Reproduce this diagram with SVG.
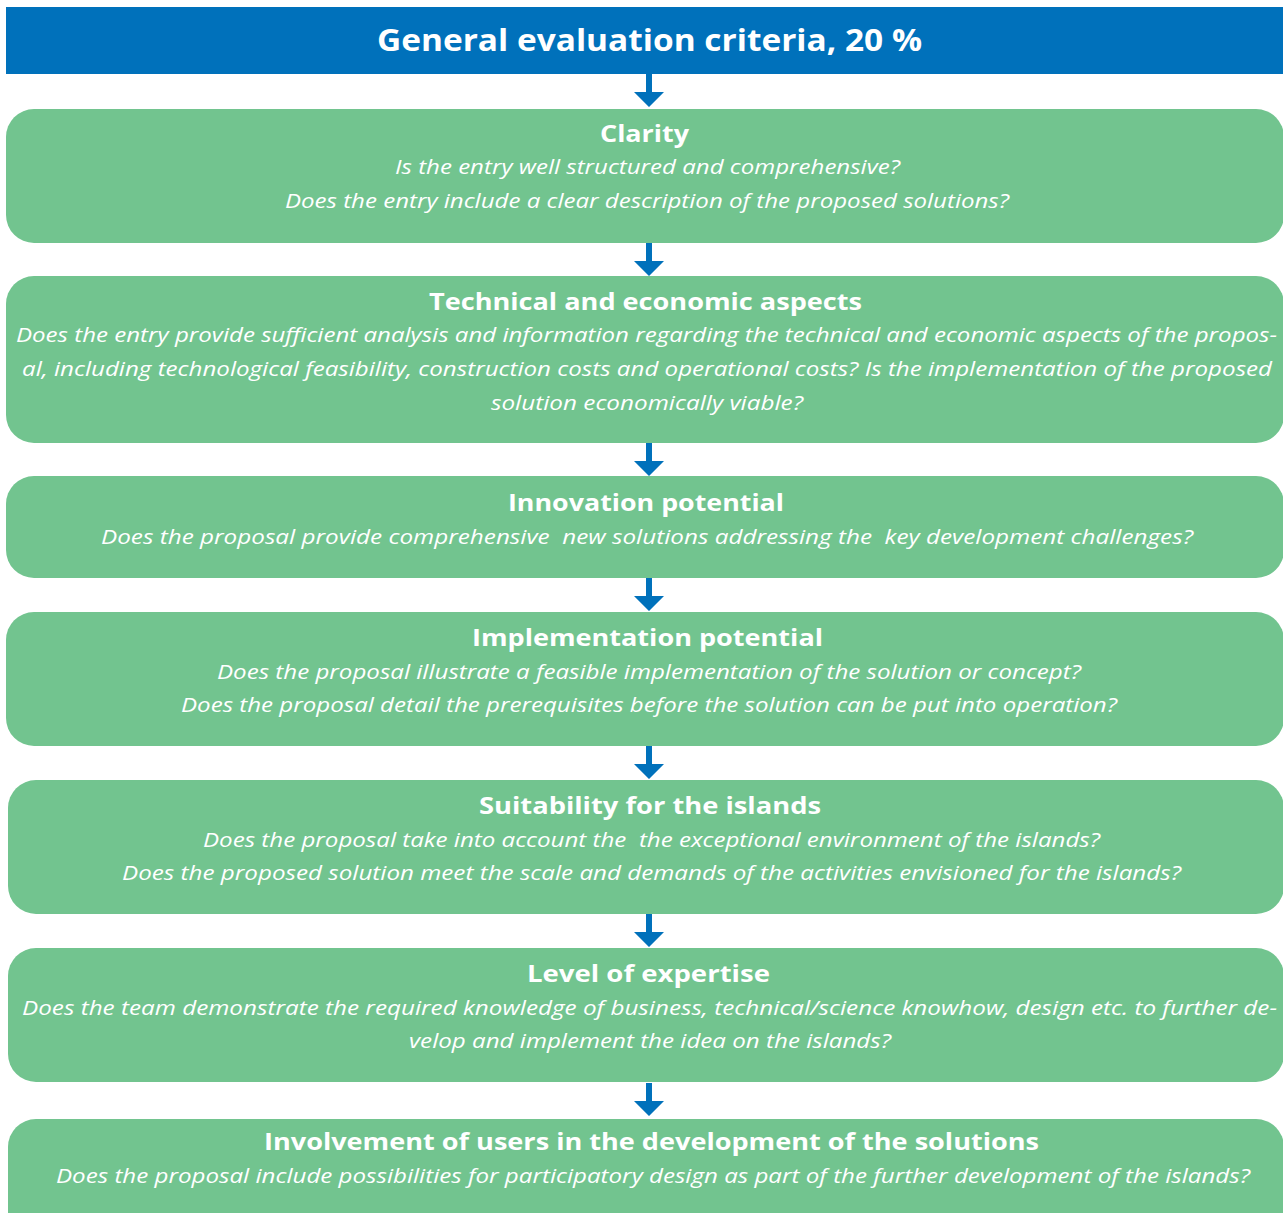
<svg xmlns="http://www.w3.org/2000/svg" width="1283" height="1213" viewBox="0 0 1283 1213">
<defs>
<style>
.box{fill:#72C48F;}
.h{font-family:"Open Sans","Noto Sans",sans-serif;font-weight:700;font-size:24px;fill:#fff;}
.b{font-family:"Open Sans","Noto Sans",sans-serif;font-style:italic;font-size:20px;fill:#fff;}
.t{font-family:"Open Sans","Noto Sans",sans-serif;font-weight:700;font-size:31px;fill:#fff;}
.arr{fill:#0071BB;}
</style>
<g id="arrowShape"><path d="M-3,0 H3 V18 H15 L0,33 L-15,18 H-3 Z"/></g>
</defs>
<rect width="1283" height="1213" fill="#fff"/>
<g id="header">
<rect x="6" y="7" width="1277" height="67" fill="#0071BB"/>
<text class="t" x="377" y="51" textLength="545" lengthAdjust="spacingAndGlyphs">General evaluation criteria, 20 %</text>
</g>
<g id="connectors" class="arr">
<use href="#arrowShape" x="649" y="74"/>
<use href="#arrowShape" x="649" y="243"/>
<use href="#arrowShape" x="649" y="443"/>
<use href="#arrowShape" x="649" y="578"/>
<use href="#arrowShape" x="649" y="746"/>
<use href="#arrowShape" x="649" y="914"/>
<use href="#arrowShape" x="649" y="1083"/>
</g>
<g id="clarity">
<rect class="box" x="6" y="109" width="1278" height="134" rx="28"/>
<text class="h" x="600" y="142" textLength="89" lengthAdjust="spacingAndGlyphs">Clarity</text>
<text class="b" x="395" y="174" textLength="505" lengthAdjust="spacingAndGlyphs">Is the entry well structured and comprehensive?</text>
<text class="b" x="285" y="208" textLength="724" lengthAdjust="spacingAndGlyphs">Does the entry include a clear description of the proposed solutions?</text>
</g>
<g id="technical">
<rect class="box" x="6" y="276" width="1278" height="167" rx="28"/>
<text class="h" x="429" y="310" textLength="433" lengthAdjust="spacingAndGlyphs">Technical and economic aspects</text>
<text class="b" x="16" y="342" textLength="1261" lengthAdjust="spacingAndGlyphs">Does the entry provide sufficient analysis and information regarding the technical and economic aspects of the propos-</text>
<text class="b" x="22" y="376" textLength="1250" lengthAdjust="spacingAndGlyphs">al, including technological feasibility, construction costs and operational costs? Is the implementation of the proposed</text>
<text class="b" x="491" y="410" textLength="312" lengthAdjust="spacingAndGlyphs">solution economically viable?</text>
</g>
<g id="innovation">
<rect class="box" x="6" y="476" width="1278" height="102" rx="28"/>
<text class="h" x="508" y="511" textLength="276" lengthAdjust="spacingAndGlyphs">Innovation potential</text>
<text class="b" x="101" y="544" textLength="1092" lengthAdjust="spacingAndGlyphs" xml:space="preserve">Does the proposal provide comprehensive  new solutions addressing the  key development challenges?</text>
</g>
<g id="implementation">
<rect class="box" x="6" y="612" width="1278" height="134" rx="28"/>
<text class="h" x="472" y="646" textLength="351" lengthAdjust="spacingAndGlyphs">Implementation potential</text>
<text class="b" x="217" y="679" textLength="864" lengthAdjust="spacingAndGlyphs">Does the proposal illustrate a feasible implementation of the solution or concept?</text>
<text class="b" x="181" y="712" textLength="936" lengthAdjust="spacingAndGlyphs">Does the proposal detail the prerequisites before the solution can be put into operation?</text>
</g>
<g id="suitability">
<rect class="box" x="8" y="780" width="1276" height="134" rx="28"/>
<text class="h" x="479" y="814" textLength="342" lengthAdjust="spacingAndGlyphs">Suitability for the islands</text>
<text class="b" x="203" y="847" textLength="897" lengthAdjust="spacingAndGlyphs" xml:space="preserve">Does the proposal take into account the  the exceptional environment of the islands?</text>
<text class="b" x="122" y="880" textLength="1059" lengthAdjust="spacingAndGlyphs">Does the proposed solution meet the scale and demands of the activities envisioned for the islands?</text>
</g>
<g id="expertise">
<rect class="box" x="8" y="948" width="1276" height="134" rx="28"/>
<text class="h" x="527" y="982" textLength="243" lengthAdjust="spacingAndGlyphs">Level of expertise</text>
<text class="b" x="22" y="1015" textLength="1255" lengthAdjust="spacingAndGlyphs">Does the team demonstrate the required knowledge of business, technical/science knowhow, design etc. to further de-</text>
<text class="b" x="409" y="1048" textLength="482" lengthAdjust="spacingAndGlyphs">velop and implement the idea on the islands?</text>
</g>
<g id="involvement">
<rect class="box" x="8" y="1119" width="1276" height="140" rx="28"/>
<text class="h" x="264" y="1150" textLength="775" lengthAdjust="spacingAndGlyphs">Involvement of users in the development of the solutions</text>
<text class="b" x="56" y="1183" textLength="1194" lengthAdjust="spacingAndGlyphs">Does the proposal include possibilities for participatory design as part of the further development of the islands?</text>
</g>
</svg>
